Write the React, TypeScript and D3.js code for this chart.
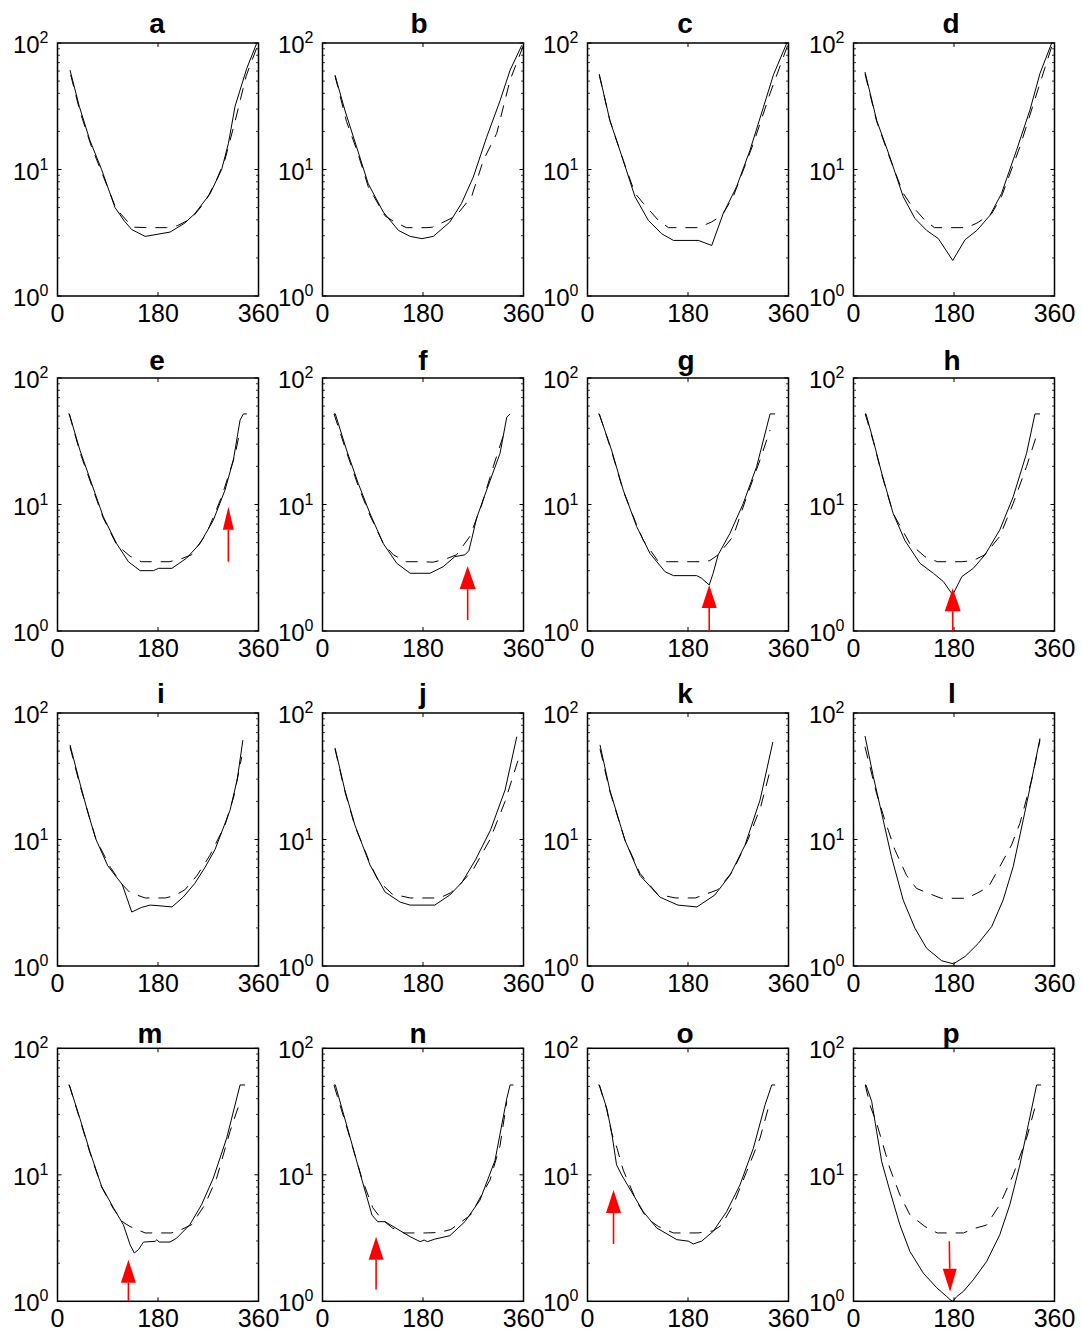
import React from 'react';
import * as d3 from 'd3';

type Pt = [number, number];

// ---------- data (angle in degrees, value) ----------
const panelLabels = ['a','b','c','d','e','f','g','h','i','j','k','l','m','n','o','p'];
const xTickValues = [0, 180, 360];
const yMajorTicks = [1, 10, 100];
const yTickExponents = ['0', '1', '2'];

const solidA: Pt[] = [[22.4,61],[39,31.6],[58,17],[79,10],[103,5],[120,3.9],[133,3.35],[157,2.96],[201.5,3.2],[228,3.77],[246,4.48],[273,6.4],[294,10],[306,16],[318,31.6],[339,63],[357,100]];
const dashedA: Pt[] = [[23.6,56],[40,29],[60,15.5],[80,9.3],[105,4.9],[125,3.9],[135,3.5],[165,3.47],[195,3.47],[215,3.6],[240,4.1],[265,5.6],[285,8.3],[300,12],[318,24],[338,55],[360,100]];

const solidB: Pt[] = [[22.4,55.8],[40,29.5],[61,15.1],[82,7.7],[109,4.6],[136,3.3],[157,2.96],[178,2.84],[198.5,2.96],[228,3.84],[249,5.4],[270,8.7],[294,18],[318,35],[336,61],[357,96]];
const dashedB: Pt[] = [[22.4,55],[43,24],[62,14],[82,7.3],[112,4.3],[127,3.9],[150,3.47],[187,3.47],[197,3.5],[220,3.9],[239,4.3],[267,6.1],[288,11.8],[312,19.3],[336,51],[360,96]];

const solidC: Pt[] = [[21,56.8],[40,24.5],[64,11.8],[85,6.1],[109,3.96],[133,3.1],[154,2.75],[198.5,2.75],[222.5,2.51],[243,4.48],[267,7.3],[291,14.2],[315,31],[333,56],[357,100]];
const dashedC: Pt[] = [[21,56],[40,24.5],[64,11.8],[85,6.5],[100,5.4],[127,3.96],[145,3.47],[198,3.47],[222,3.84],[241,4.34],[261,6.1],[297,16],[327,40],[360,100]];

const solidD: Pt[] = [[20.6,59],[41.5,24.5],[65,12.6],[89,6.1],[110,4.1],[131,3.3],[152,2.84],[177.7,1.91],[200,2.79],[221,3.3],[244.5,4.34],[265,6.45],[292,14.2],[316,29.5],[334,57.5],[355,100]];
const dashedD: Pt[] = [[20.6,57],[41.5,24],[65,12.3],[89,6.5],[101,5.4],[128,3.96],[145,3.47],[203,3.47],[221,3.77],[247.5,4.48],[265,6.1],[298,15.1],[334,48],[357,100]];

const solidE: Pt[] = [[19.4,52],[21.2,52],[40,27],[61,14.7],[82,8],[106,4.9],[127,3.53],[148,3.0],[172,3.0],[181,3.13],[205,3.13],[231,3.76],[255,4.9],[279,7.5],[300,13],[315,22.5],[327,46.5],[333,52],[339,52]];
const dashedE: Pt[] = [[21,52],[40,26],[61,14.2],[82,7.8],[106,4.8],[130,3.9],[150,3.53],[200,3.53],[220,3.7],[240,4.0],[267,5.9],[294,11.5],[318,24.6],[327,38.8]];

const solidF: Pt[] = [[20.6,52],[23,52],[43,27],[64,14.7],[85,8.5],[109,4.9],[133,3.43],[157,2.86],[192.5,2.86],[216,3.22],[237,3.87],[255,4.0],[262,4.3],[268,5.5],[276,7.8],[294,13],[318,25.4],[330,49],[336,52]];
const dashedF: Pt[] = [[20.6,52],[43,26],[64,14],[85,8.2],[109,4.9],[127,4.0],[150,3.53],[178,3.53],[198,3.5],[220,3.7],[240,4.0],[264,5.6],[285,9.9],[306,20],[327,38.8]];

const solidG: Pt[] = [[19.4,52],[21,52],[43,27],[64,13],[88,6.7],[112,4.1],[139,2.94],[154,2.74],[195.6,2.74],[204.5,2.61],[218,2.31],[225,2.86],[234,4.0],[255,5.9],[279,10.2],[303,20],[327,52],[336,52]];
const dashedG: Pt[] = [[21,52],[43,26.5],[64,12.8],[88,6.9],[100,5.2],[127,3.53],[145,3.53],[208,3.53],[219,3.6],[234,4.0],[261,5.6],[285,11.5],[309,22.5],[327,38.8]];

const solidH: Pt[] = [[20.6,52],[22.4,52],[35.5,32],[50.5,17.7],[71,8.5],[92,5.2],[119,3.43],[143,2.86],[161,2.46],[177.7,1.93],[194,2.69],[214.6,3.13],[235.5,4.0],[262,6.3],[286,11.5],[310,25.4],[325,52],[334,52]];
const dashedH: Pt[] = [[21,52],[36,31],[51,17],[71,8.5],[101,4.9],[128,3.87],[150,3.53],[194,3.53],[214,3.6],[235,4.0],[262,5.6],[286,10.2],[310,20],[331,38.8]];

const solidI: Pt[] = [[22.4,56],[40,28],[55,16],[69,10],[90,6.2],[116,4.4],[133,2.67],[150,2.9],[166,3.03],[180,3.0],[205,2.93],[225,3.5],[246,4.5],[264,6],[282,8.3],[309,17],[322,30],[332,61]];
const dashedI: Pt[] = [[22.4,54],[40,27],[69,10],[95,6],[116,4.4],[130,3.8],[157,3.45],[193,3.45],[210,3.6],[228,4.0],[250,5.2],[273,7.5],[300,13],[316,22],[330,45]];

const solidJ: Pt[] = [[22.4,53],[40,24.6],[58,13],[85,6.3],[112,3.85],[139,3.2],[157,3.03],[201,3.03],[228,3.64],[250,4.6],[274,6.9],[301,11.9],[327,24.6],[348,65]];
const dashedJ: Pt[] = [[22.4,52],[40,24],[58,12.8],[85,6.5],[100,4.7],[125,3.7],[157,3.45],[210,3.45],[230,3.8],[246,4.4],[270,5.8],[300,10],[327,20],[350,42]];

const solidK: Pt[] = [[22.4,56],[40,24.6],[67,9.9],[94,5.2],[130,3.5],[162,3.03],[196,2.93],[228,3.64],[255,5.2],[282,9.0],[309,20.5],[332,59]];
const dashedK: Pt[] = [[22.4,52],[40,24],[67,9.9],[94,5.4],[125,3.7],[157,3.45],[193,3.45],[233,4.0],[260,5.6],[287,9.9],[310,18],[327,35]];

const solidL: Pt[] = [[20.6,65.8],[35.5,31.4],[50.5,16.1],[68,7.3],[89,3.32],[110,1.99],[131,1.38],[158,1.1],[179,1.04],[200,1.19],[223.5,1.51],[247.5,2.05],[268,3.32],[286,6.1],[304,14.3],[319,29.5],[334,63]];
const dashedL: Pt[] = [[20.6,54],[41.5,23],[56,14.3],[74,8.3],[95,5.2],[113,4.1],[127,3.87],[157,3.43],[203,3.43],[221,3.76],[241.5,4.2],[262,6.1],[283,9.05],[298,13.4],[319,29.5],[334,61]];

const solidM: Pt[] = [[19.4,51.3],[21.2,51.3],[40,28],[58,15.3],[79,8.1],[100,5.5],[118,4.03],[130,2.8],[137.6,2.41],[145,2.56],[154,2.94],[175,2.98],[178,3.07],[182,2.94],[201.5,2.94],[213.5,3.16],[237,4.03],[258,5.8],[279,9.4],[303,19.5],[327,51.3],[336,51.3]];
const dashedM: Pt[] = [[21,51.3],[40,27.5],[58,15],[79,8.0],[100,5.4],[118,4.2],[130,3.9],[157,3.47],[203,3.47],[214,3.55],[240,4.03],[264,5.8],[285,9.4],[309,22],[327,38]];

const solidN: Pt[] = [[20.6,51.3],[23,51.3],[45.7,22.6],[70.7,9.1],[88.7,4.8],[99,4.26],[112,4.26],[130,3.82],[157,3.24],[175,2.96],[182,3.05],[188,2.96],[201,3.1],[228,3.3],[255,4.26],[282,6.3],[309,13],[330,40],[336,51.3],[342,51.3]];
const dashedN: Pt[] = [[20.6,51],[45.7,22],[70.7,9.3],[90,5.5],[105,4.5],[125,3.8],[145,3.47],[185,3.47],[210,3.5],[230,3.7],[265,4.8],[300,9.1],[318,17],[330,38]];

const solidO: Pt[] = [[19.4,51.3],[21.2,51.3],[34.4,33.6],[43,22],[52,12],[61,10],[82,6.95],[100,5.1],[124,3.8],[160,3.07],[180.5,2.99],[189.5,2.84],[204.5,2.99],[225,3.57],[249,5.1],[273,8.3],[297,16.2],[318,35.7],[330,51.3],[336,51.3]];
const dashedO: Pt[] = [[21,51.3],[34.4,33],[43,21.5],[53,16.2],[64,10.9],[88,6.15],[106,4.55],[127,3.9],[154,3.47],[198,3.47],[225,3.6],[240,4.0],[261,5.8],[285,10.6],[309,19.5],[327,38]];

const solidP: Pt[] = [[20.6,51.3],[22.4,51.3],[32.6,38],[41.5,22],[50.5,12.7],[65.4,7.4],[83,4.03],[101,2.48],[125,1.67],[149,1.28],[167,1.09],[173,1.03],[178,1.0],[185,1.09],[197,1.2],[214.6,1.48],[238.6,2.07],[262,3.36],[280,5.8],[298,12],[313,24.8],[328,51.3],[336,51.3]];
const dashedP: Pt[] = [[21,51.3],[30,35],[41.5,25.6],[65,11.3],[83,6.95],[101,4.83],[128,3.9],[150,3.47],[197,3.47],[215,3.75],[238,4.0],[262,5.8],[286,10],[310,19.5],[328,38]];

const solidSeries: Pt[][] = [solidA, solidB, solidC, solidD, solidE, solidF, solidG, solidH, solidI, solidJ, solidK, solidL, solidM, solidN, solidO, solidP];
const dashedSeries: Pt[][] = [dashedA, dashedB, dashedC, dashedD, dashedE, dashedF, dashedG, dashedH, dashedI, dashedJ, dashedK, dashedL, dashedM, dashedN, dashedO, dashedP];

// red arrows: panel, tail (angle, value), tip (angle, value)
const arrowPanels = ['e', 'f', 'g', 'h', 'm', 'n', 'o', 'p'];
const arrowTail: Pt[] = [[306, 3.53], [260, 1.22], [218, 1.0], [177.7, 1.0], [127, 1.0], [96, 1.24], [46.6, 2.84], [171.6, 2.98]];
const arrowTip: Pt[] = [[306, 9.6], [260, 3.26], [218, 2.31], [177.7, 2.18], [127, 2.13], [96, 3.24], [46.6, 7.6], [173, 1.19]];

// ---------- layout ----------
const colLeft = [57.5, 322.5, 587.5, 853.5];
const rowTop = [43, 378, 713, 1048.3];
const titleOffset = [10, 8, 10, 5];
const titleDx = [-1, -4, -3, -3, -1, 0, -2, -2, 3, 0, -3, -2, -8, -5, -3, -3];
const PW = 201;
const PH = 253;
const FONT = '"Liberation Sans", Arial, Helvetica, sans-serif';
const arrowHeadW = [11, 16, 15, 16, 15, 15, 15, 14];
const ARROW_HEAD_L = 23;

function Panel({ idx }: { idx: number }) {
  const r = Math.floor(idx / 4);
  const c = idx % 4;
  const x0 = colLeft[c];
  const y0 = rowTop[r];
  const x = d3.scaleLinear().domain([0, 360]).range([x0, x0 + PW]);
  const y = d3.scaleLog().domain([1, 100]).range([y0 + PH, y0]);
  const line = d3.line<Pt>().x(d => x(d[0])).y(d => y(d[1])).curve(d3.curveLinear);
  const minor: number[] = [];
  for (const dec of [1, 10]) for (let k = 2; k <= 9; k++) minor.push(dec * k);
  const clipId = `clip-${idx}`;
  const label = panelLabels[idx];
  const ai = arrowPanels.indexOf(label);
  let arrow: React.ReactNode = null;
  if (ai >= 0) {
    const tx = x(arrowTail[ai][0]), ty = y(arrowTail[ai][1]);
    const hx = x(arrowTip[ai][0]), hy = y(arrowTip[ai][1]);
    const ang = Math.atan2(hy - ty, hx - tx);
    const ux = Math.cos(ang), uy = Math.sin(ang);
    const bx = hx - ux * ARROW_HEAD_L, by = hy - uy * ARROW_HEAD_L;
    const hw = arrowHeadW[ai] / 2;
    const pts = [[hx, hy], [bx - uy * hw, by + ux * hw], [bx + uy * hw, by - ux * hw]];
    arrow = (
      <g>
        <line x1={tx} y1={ty} x2={bx} y2={by} stroke="#ff0000" strokeWidth={1.6} />
        <polygon points={pts.map(p => p.join(',')).join(' ')} fill="#ff0000" />
      </g>
    );
  }
  return (
    <g>
      <defs>
        <clipPath id={clipId}>
          <rect x={x0} y={y0} width={PW} height={PH} />
        </clipPath>
      </defs>
      <g clipPath={`url(#${clipId})`}>
        <path d={line(dashedSeries[idx]) || ''} fill="none" stroke="#000" strokeWidth={1} strokeDasharray="12,9" />
        <path d={line(solidSeries[idx]) || ''} fill="none" stroke="#000" strokeWidth={1} />
      </g>
      {xTickValues.map(t => (
        <g key={'xt' + t}>
          <line x1={x(t)} x2={x(t)} y1={y0 + PH} y2={y0 + PH - 4} stroke="#000" strokeWidth={1} />
          <line x1={x(t)} x2={x(t)} y1={y0} y2={y0 + 4} stroke="#000" strokeWidth={1} />
        </g>
      ))}
      {yMajorTicks.map(t => (
        <g key={'ymt' + t}>
          <line x1={x0} x2={x0 + 4} y1={y(t)} y2={y(t)} stroke="#000" strokeWidth={1} />
          <line x1={x0 + PW} x2={x0 + PW - 4} y1={y(t)} y2={y(t)} stroke="#000" strokeWidth={1} />
        </g>
      ))}
      {minor.map(t => (
        <g key={'ymn' + t}>
          <line x1={x0} x2={x0 + 2.5} y1={y(t)} y2={y(t)} stroke="#000" strokeWidth={0.8} />
          <line x1={x0 + PW} x2={x0 + PW - 2.5} y1={y(t)} y2={y(t)} stroke="#000" strokeWidth={0.8} />
        </g>
      ))}
      <rect x={x0} y={y0} width={PW} height={PH} fill="none" stroke="#000" strokeWidth={1.5} />
      {arrow}
      {xTickValues.map(t => (
        <text key={'xl' + t} x={x(t)} y={y0 + PH + 26} textAnchor="middle" fontSize={25} fontFamily={FONT}>{t}</text>
      ))}
      {yMajorTicks.map((t, i) => (
        <text key={'yl' + t} x={x0 - 9} y={y(t) + 10} textAnchor="end" fontSize={24} fontFamily={FONT}>
          10<tspan dy={-10} fontSize={16}>{yTickExponents[i]}</tspan>
        </text>
      ))}
      <text x={x0 + PW / 2 + titleDx[idx]} y={y0 - titleOffset[r]} textAnchor="middle" fontSize={28} fontWeight="bold" fontFamily={FONT}>{label}</text>
    </g>
  );
}

export default function App() {
  return (
    <svg width={1082} height={1338} viewBox="0 0 1082 1338" style={{ position: 'absolute', left: 0, top: 0, background: '#fff' }}>
      <rect x={0} y={0} width={1082} height={1338} fill="#fff" />
      {panelLabels.map((_, i) => <Panel key={i} idx={i} />)}
    </svg>
  );
}
